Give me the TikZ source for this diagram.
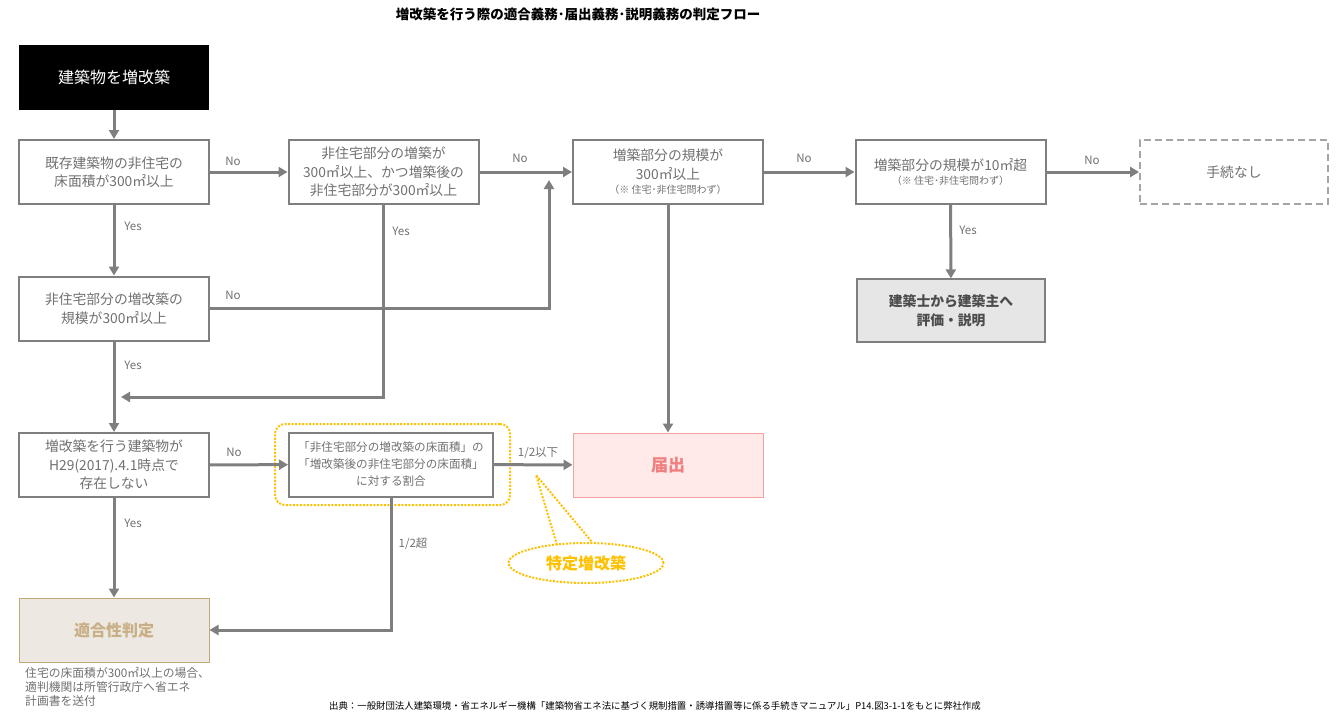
\documentclass[tikz,border=0pt]{standalone}
\usepackage{fontspec}
\setmainfont{Noto Sans CJK JP}
\usetikzlibrary{arrows.meta,shapes.geometric}
\definecolor{gline}{HTML}{7F7F7F}
\definecolor{gtext}{HTML}{707070}
\definecolor{yel}{HTML}{FFC000}
\definecolor{pinkfill}{HTML}{FFE9E9}
\definecolor{pinkline}{HTML}{F2A0A0}
\definecolor{pinktext}{HTML}{F08080}
\definecolor{beigefill}{HTML}{EDE9E2}
\definecolor{beigeline}{HTML}{C2A878}
\definecolor{beigetext}{HTML}{C9AF86}
\definecolor{grayfill}{HTML}{E6E6E6}
\begin{document}
\begin{tikzpicture}[x=1pt,y=-1pt,
  box/.style={draw=gline, line width=2pt, minimum width=190pt, minimum height=64pt, align=center, text=gtext, inner sep=2pt, font=\fontsize{13.8}{18.5}\selectfont},
  blk/.style={fill=black, minimum width=190pt, minimum height=65pt, text=white, font=\fontsize{16}{18}\selectfont},
  dbox/.style={draw=gline!70, dashed, dash pattern=on 7pt off 4pt, line width=1.8pt, minimum width=188pt, minimum height=64pt, text=gtext, font=\fontsize{13.8}{18}\selectfont},
  gbox/.style={draw=gline, fill=grayfill, line width=1.2pt, minimum width=188pt, minimum height=63pt, align=center, text=black!70, font=\fontsize{13.8}{19}\selectfont\bfseries},
  pbox/.style={draw=pinkline, fill=pinkfill, line width=1pt, minimum width=190pt, minimum height=64pt, text=pinktext, font=\fontsize{17}{18}\selectfont\bfseries},
  kbox/.style={draw=beigeline, fill=beigefill, line width=1pt, minimum width=190pt, minimum height=64pt, text=beigetext, font=\fontsize{16}{18}\selectfont\bfseries},
  ydot/.style={draw=yel, line width=2pt, dash pattern=on 2pt off 1.5pt},
  arr/.style={draw=gline, line width=3pt, -{Triangle[length=9pt,width=10pt]}},
  lbl/.style={text=gtext, font=\fontsize{11.5}{13}\selectfont}
]
\useasboundingbox (0,0) rectangle (1343,721);

\node (title) at (578,14) {\fontsize{13.5}{15}\selectfont\bfseries 増改築を行う際の適合義務･届出義務･説明義務の判定フロー};

\node[blk] (start) at (114,77.5) {建築物を増改築};
\node[box] (A) at (114,172) {既存建築物の非住宅の\\床面積が300㎡以上};
\node[box] (B) at (383.5,172) {非住宅部分の増築が\\300㎡以上、かつ増築後の\\非住宅部分が300㎡以上};
\node[box] (C) at (668,172) {増築部分の規模が\\300㎡以上\\[-4pt]{\fontsize{10}{12}\selectfont （※ 住宅･非住宅問わず）}};
\node[box] (D) at (950.5,172) {増築部分の規模が10㎡超\\[-5pt]{\fontsize{10}{12}\selectfont （※ 住宅･非住宅問わず）}};
\node[dbox] (E) at (1234,172) {手続なし};
\node[gbox] (F) at (951,310.5) {建築士から建築主へ\\評価・説明};
\node[box] (G) at (114,308.5) {非住宅部分の増改築の\\規模が300㎡以上};
\node[box] (H) at (114,465) {増改築を行う建築物が\\H29(2017).4.1時点で\\存在しない};
\node[box, minimum width=204pt, font=\fontsize{11.6}{17}\selectfont] (I) at (391,464.5) {「非住宅部分の増改築の床面積」の\\「増改築後の非住宅部分の床面積」\\に対する割合};
\node[pbox] (J) at (668,465) {届出};
\node[kbox] (K) at (114,630) {適合性判定};

% yellow callout
\node[ydot, rounded corners=10pt, minimum width=235pt, minimum height=81pt] (Iframe) at (392.5,464.5) {};
\node[ydot, ellipse, minimum width=155pt, minimum height=40pt, text=yel, font=\fontsize{16}{18}\selectfont\bfseries] (T) at (586,563) {特定増改築};
\coordinate (tip) at (536,475);
\coordinate (tl) at (557,545);
\coordinate (tr) at (592,542);
\draw[ydot] (tl) -- (tip) -- (tr);

% connectors
\coordinate (jc) at (549,180);
\coordinate (jb) at (121,397);
\draw[arr] (start) -- (A);
\draw[arr] (A) -- (B);
\draw[arr] (B) -- (C);
\draw[arr] (C) -- (D);
\draw[arr] (D) -- (E);
\draw[arr] (D) -- (F);
\draw[arr] (A) -- (G);
\draw[arr] (G) -| (jc);
\draw[arr] (B) |- (jb);
\draw[arr] (G) -- (H);
\draw[arr] (H) -- (I);
\draw[arr] (I) -- (J);
\draw[arr] (C) -- (J);
\draw[arr] (I) |- (K);
\draw[arr] (H) -- (K);

% labels
\node[lbl] (l1) at (233,161) {No};
\node[lbl] (l2) at (520,158) {No};
\node[lbl] (l3) at (804,158) {No};
\node[lbl] (l4) at (1092,160) {No};
\node[lbl] (l5) at (133,226) {Yes};
\node[lbl] (l6) at (401,231) {Yes};
\node[lbl] (l7) at (968,230) {Yes};
\node[lbl] (l8) at (233,295) {No};
\node[lbl] (l9) at (133,365) {Yes};
\node[lbl] (l10) at (234,452) {No};
\node[lbl] (l11) at (538,453) {1/2以下};
\node[lbl] (l12) at (133,523) {Yes};
\node[lbl] (l13) at (413,544) {1/2超};

\node[text=gtext, anchor=north west, align=left, inner sep=0pt, font=\fontsize{11.8}{14}\selectfont] (note) at (25,667) {住宅の床面積が300㎡以上の場合、\\適判機関は所管行政庁へ省エネ\\計画書を送付};
\node[font=\fontsize{9.4}{11}\selectfont] (src) at (655,706) {出典：一般財団法人建築環境・省エネルギー機構「建築物省エネ法に基づく規制措置・誘導措置等に係る手続きマニュアル」P14.図3-1-1をもとに弊社作成};
\end{tikzpicture}
\end{document}
